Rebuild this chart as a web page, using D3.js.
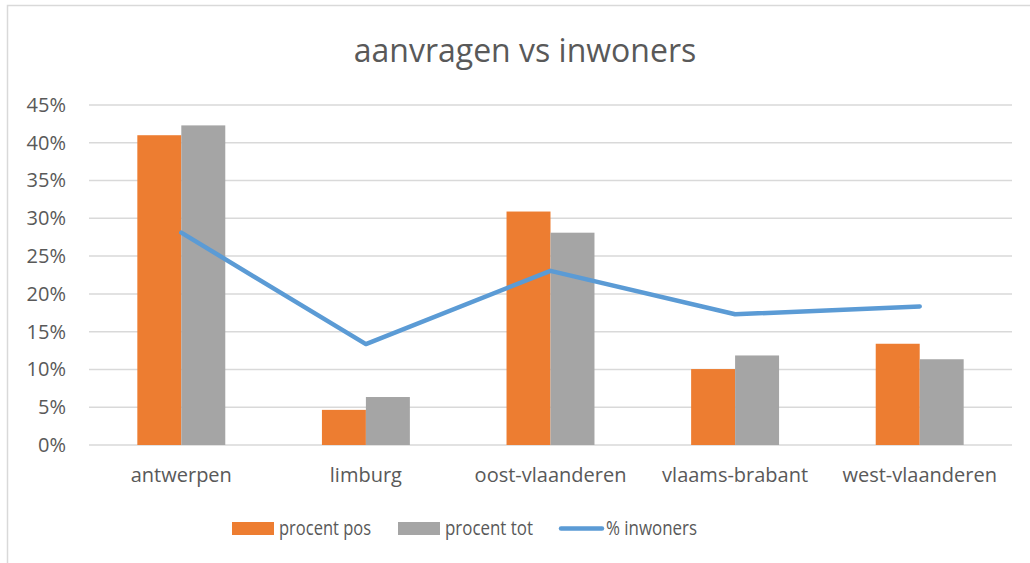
<!DOCTYPE html>
<html>
<head>
<meta charset="utf-8">
<script src="https://cdn.jsdelivr.net/npm/d3@7"></script>
<style>
  body { margin: 0; background: #fff; }
  svg { display: block; font-family: "Open Sans", sans-serif; }
</style>
</head>
<body>
<div id="chart"></div>
<script>
const categories = ["antwerpen", "limburg", "oost-vlaanderen", "vlaams-brabant", "west-vlaanderen"];
const procentPos = [0.410, 0.0465, 0.309, 0.1005, 0.134];
const procentTot = [0.423, 0.0635, 0.281, 0.1185, 0.1135];
const inwoners = [0.281, 0.1336, 0.2305, 0.173, 0.1834];
const yTicks = [0, 0.05, 0.10, 0.15, 0.20, 0.25, 0.30, 0.35, 0.40, 0.45];

const width = 1030;
const height = 563;
const textColor = "#595959";
const orange = "#ED7D31";
const gray = "#A5A5A5";
const blue = "#5B9BD5";

const svg = d3.select("#chart")
  .append("svg")
  .attr("width", width)
  .attr("height", height);

// chart frame (runs off the right and bottom edge)
svg.append("rect")
  .attr("x", 7.5)
  .attr("y", 5.5)
  .attr("width", width + 10)
  .attr("height", height + 10)
  .attr("fill", "none")
  .attr("stroke", "#D9D9D9")
  .attr("stroke-width", 1.5);

svg.append("text")
  .attr("x", 525)
  .attr("y", 62)
  .attr("text-anchor", "middle")
  .attr("fill", textColor)
  .style("font-size", "32px")
  .text("aanvragen vs inwoners");

const plot = { left: 89, right: 1012, top: 105, bottom: 445 };

const x = d3.scaleBand()
  .domain(categories)
  .range([plot.left, plot.right])
  .paddingInner(0.5236)
  .paddingOuter(0.2618);

const x1 = d3.scaleBand()
  .domain(["pos", "tot"])
  .range([0, x.bandwidth()]);

const y = d3.scaleLinear()
  .domain([0, 0.45])
  .range([plot.bottom, plot.top]);

// gridlines
svg.append("g")
  .selectAll("line")
  .data(yTicks)
  .join("line")
  .attr("x1", plot.left)
  .attr("x2", plot.right)
  .attr("y1", d => y(d))
  .attr("y2", d => y(d))
  .attr("stroke", "#D9D9D9")
  .attr("stroke-width", 1.5);

// y axis labels
const yAxis = svg.append("g")
  .attr("transform", `translate(${plot.left}, 0)`)
  .call(d3.axisLeft(y).tickValues(yTicks).tickFormat(d3.format(".0%")).tickSize(0).tickPadding(23));
yAxis.select(".domain").remove();
yAxis.selectAll("text")
  .attr("fill", textColor)
  .style("font-size", "20px")
  .style("font-family", "'Open Sans', sans-serif");

// x axis labels
const xAxis = svg.append("g")
  .attr("transform", `translate(0, ${plot.bottom})`)
  .call(d3.axisBottom(x).tickSize(0).tickPadding(23));
xAxis.select(".domain").remove();
xAxis.selectAll("text")
  .attr("fill", textColor)
  .style("font-size", "20px")
  .style("font-family", "'Open Sans', sans-serif");

// bars
const groups = svg.append("g")
  .selectAll("g")
  .data(categories)
  .join("g")
  .attr("transform", d => `translate(${x(d)}, 0)`);

groups.append("rect")
  .attr("x", x1("pos"))
  .attr("width", x1.bandwidth())
  .attr("y", (d, i) => y(procentPos[i]))
  .attr("height", (d, i) => y(0) - y(procentPos[i]))
  .attr("fill", orange);

groups.append("rect")
  .attr("x", x1("tot"))
  .attr("width", x1.bandwidth())
  .attr("y", (d, i) => y(procentTot[i]))
  .attr("height", (d, i) => y(0) - y(procentTot[i]))
  .attr("fill", gray);

// line
const line = d3.line()
  .x((d, i) => x(categories[i]) + x.bandwidth() / 2)
  .y(d => y(d));

svg.append("path")
  .datum(inwoners)
  .attr("d", line)
  .attr("fill", "none")
  .attr("stroke", blue)
  .attr("stroke-width", 4.5)
  .attr("stroke-linecap", "round")
  .attr("stroke-linejoin", "round");

// legend
const legend = svg.append("g").style("font-size", "20px").attr("fill", textColor);

legend.append("rect").attr("x", 232).attr("y", 522).attr("width", 42).attr("height", 13).attr("fill", orange);
legend.append("text").attr("x", 279).attr("y", 535)
  .attr("textLength", 92).attr("lengthAdjust", "spacingAndGlyphs").text("procent pos");

legend.append("rect").attr("x", 398).attr("y", 522).attr("width", 42).attr("height", 13).attr("fill", gray);
legend.append("text").attr("x", 445).attr("y", 535)
  .attr("textLength", 88).attr("lengthAdjust", "spacingAndGlyphs").text("procent tot");

legend.append("line").attr("x1", 561).attr("x2", 602).attr("y1", 528.5).attr("y2", 528.5)
  .attr("stroke", blue).attr("stroke-width", 4.5).attr("stroke-linecap", "round");
legend.append("text").attr("x", 606).attr("y", 535)
  .attr("textLength", 91).attr("lengthAdjust", "spacingAndGlyphs").text("% inwoners");
</script>
</body>
</html>
